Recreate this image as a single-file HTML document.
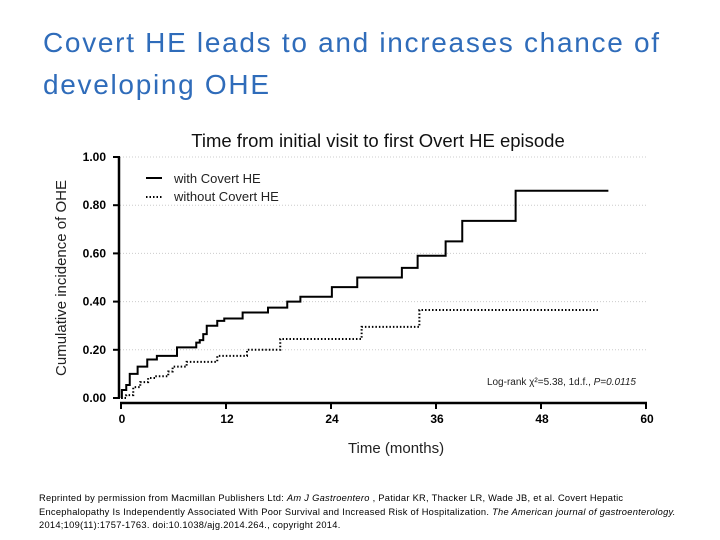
<!DOCTYPE html>
<html><head><meta charset="utf-8"><style>
body{margin:0;width:720px;height:540px;background:#fff;overflow:hidden;font-family:"Liberation Sans",sans-serif;position:relative}
.t{position:absolute;left:43px;font-size:28px;color:#2f6cba;line-height:42px;letter-spacing:1.7px}
#foot{position:absolute;left:39px;top:492px;font-size:9.3px;line-height:13.5px;color:#000;white-space:nowrap;letter-spacing:0.28px}
</style></head><body>
<div class="t" style="top:22px">Covert HE leads to and increases chance of<br>developing OHE</div>
<svg id="chart" width="720" height="540" style="position:absolute;left:0;top:0"></svg>
<div id="foot">Reprinted by permission from Macmillan Publishers Ltd: <i>Am J Gastroentero</i> , Patidar KR, Thacker LR, Wade JB, et al. Covert Hepatic<br>Encephalopathy Is Independently Associated With Poor Survival and Increased Risk of Hospitalization. <i>The American journal of gastroenterology.</i><br>2014;109(11):1757-1763. doi:10.1038/ajg.2014.264., copyright 2014.</div>
<script>
const xTicks=[0,12,24,36,48,60];
const yTicks=[0,0.2,0.4,0.6,0.8,1.0];
const yTickLabels=["0.00","0.20","0.40","0.60","0.80","1.00"];
const withMonths=[0,0.1,0.6,1.0,1.9,3.0,4.1,6.4,8.6,9.0,9.4,9.8,11.0,11.8,13.9,16.8,19.0,20.5,24.1,27.0,32.1,33.9,37.1,39.0,45.1,55.7];
const withVals=[0,0.033,0.054,0.10,0.13,0.16,0.175,0.21,0.23,0.24,0.265,0.30,0.32,0.33,0.355,0.375,0.40,0.42,0.46,0.50,0.54,0.59,0.65,0.735,0.86,0.86];
const withoutMonths=[0,0.6,1.4,2.2,3.1,3.9,5.4,5.9,7.5,11.0,14.4,18.2,27.5,34.1,54.5];
const withoutVals=[0,0.012,0.045,0.066,0.083,0.09,0.11,0.13,0.15,0.175,0.20,0.245,0.295,0.365,0.365];
const NS="http://www.w3.org/2000/svg",svg=document.getElementById('chart');
const X=m=>121+m*8.75, Y=v=>398-v*241;
function mk(tag,attrs,txt){const e=document.createElementNS(NS,tag);for(const k in attrs)e.setAttribute(k,attrs[k]);if(txt!=null)e.textContent=txt;svg.appendChild(e);return e;}
const ct=mk('text',{x:378,y:147,'text-anchor':'middle','font-size':18.5,fill:'#111'},'Time from initial visit to first Overt HE episode');

yTicks.forEach((v,i)=>{
  if(i>0){const g=mk('line',{x1:120,x2:646,y1:Y(v),y2:Y(v),stroke:'#ccc','stroke-dasharray':'1 2'});
  }
  const tk=mk('line',{x1:113,x2:120,y1:Y(v),y2:Y(v),stroke:'#000','stroke-width':2});
  
  const l=mk('text',{x:106,y:Y(v)+4,'text-anchor':'end','font-size':12,'font-weight':'bold'},yTickLabels[i]);
  
});
const ya=mk('line',{x1:119,x2:119,y1:Y(1),y2:Y(0),stroke:'#000','stroke-width':2.5});

const xa=mk('line',{x1:X(0)-1,x2:X(60)+1,y1:403,y2:403,stroke:'#000','stroke-width':2.5});

xTicks.forEach(m=>{
  const tk=mk('line',{x1:X(m),x2:X(m),y1:403,y2:409,stroke:'#000','stroke-width':2});
  
  const l=mk('text',{x:X(m)+1,y:423,'text-anchor':'middle','font-size':12,'font-weight':'bold'},String(m));
  
});
const xt=mk('text',{x:396,y:453,'text-anchor':'middle','font-size':15,fill:'#222'},'Time (months)');

const yt=mk('text',{x:0,y:0,'text-anchor':'middle','font-size':15,fill:'#222',transform:'translate(66,278) rotate(-90)'},'Cumulative incidence of OHE');

function step(ms,vs){let d='M'+X(ms[0])+','+Y(vs[0]);for(let i=1;i<ms.length;i++){d+=' H'+X(ms[i])+' V'+Y(vs[i]);}return d;}
const p1=mk('path',{d:step(withMonths,withVals),fill:'none',stroke:'#000','stroke-width':2});

const p2=mk('path',{d:step(withoutMonths,withoutVals),fill:'none',stroke:'#000','stroke-width':2,'stroke-dasharray':'1.5 2'});

const l1=mk('line',{x1:146,x2:162,y1:178,y2:178,stroke:'#000','stroke-width':2});

const t1=mk('text',{x:174,y:183,'font-size':13,fill:'#222'},'with  Covert HE');

const l2=mk('line',{x1:146,x2:162,y1:197,y2:197,stroke:'#000','stroke-width':2,'stroke-dasharray':'1.5 2'});

const t2=mk('text',{x:174,y:201,'font-size':13,fill:'#222'},'without Covert HE');

const lr=mk('text',{x:636,y:385,'text-anchor':'end','font-size':10,fill:'#222'},'');

lr.innerHTML='Log-rank χ²=5.38, 1d.f., <tspan font-style="italic">P=0.0115</tspan>';
</script>
</body></html>
